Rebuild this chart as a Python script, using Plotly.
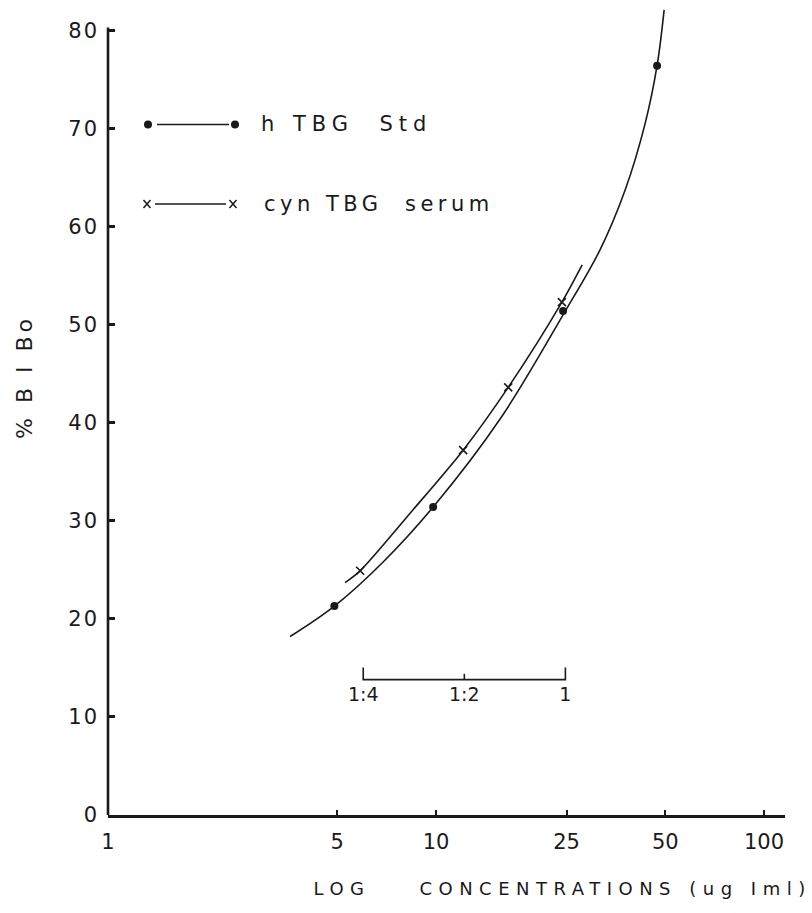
import plotly.graph_objects as go

# ---- data ----
# hTBG standard (dots)
std_x = [4.9, 9.8, 24.4, 47.2]
std_y = [21.3, 31.4, 51.4, 76.4]
# hand-drawn curve through the standard
std_curve_x = [3.59, 4.9, 6.9, 9.8, 15.7, 24.7, 31.6, 37.7, 43.4, 47.2, 49.6]
std_curve_y = [18.2, 21.3, 25.8, 31.4, 40.4, 51.3, 57.6, 63.7, 70.5, 76.4, 82.1]

# cyn TBG serum (x marks)
cyn_x = [5.87, 12.1, 16.6, 24.2]
cyn_y = [24.9, 37.2, 43.6, 52.3]
cyn_curve_x = [5.28, 5.87, 8.4, 12.1, 16.6, 24.2, 27.9]
cyn_curve_y = [23.7, 24.9, 30.9, 37.2, 43.6, 52.3, 56.1]

# dilution scale under the curves
dil_x = [6.0, 12.2, 24.8]
dil_labels = ["1:4", "1:2", "1"]
dil_line_y = 13.8
dil_tick_top = 15.05
dil_label_y = 12.1

x_tickvals = [1, 5, 10, 25, 50, 100]
x_ticktext = ["1", "5", "10", "25", "50", "100"]
y_tickvals = [0, 10, 20, 30, 40, 50, 60, 70, 80]

legend_names = ["h TBG\u00a0\u00a0Std", "cyn TBG\u00a0\u00a0serum"]
x_title = "LOG\u00a0\u00a0\u00a0\u00a0CONCENTRATIONS (ug Iml)"
y_title = "%\u00a0B I Bo"

FONT = "DejaVu Sans"
INK = "#1a1a1a"

fig = go.Figure()

fig.add_trace(go.Scatter(x=std_curve_x, y=std_curve_y, mode="lines",
                         line=dict(color=INK, width=1.6, shape="spline", smoothing=1.0),
                         showlegend=False, hoverinfo="skip"))
fig.add_trace(go.Scatter(x=std_x, y=std_y, mode="markers",
                         marker=dict(symbol="circle", size=8, color=INK),
                         showlegend=False))
fig.add_trace(go.Scatter(x=cyn_curve_x, y=cyn_curve_y, mode="lines",
                         line=dict(color=INK, width=1.6, shape="spline", smoothing=0.8),
                         showlegend=False, hoverinfo="skip"))
fig.add_trace(go.Scatter(x=cyn_x, y=cyn_y, mode="markers",
                         marker=dict(symbol="x-thin", size=8,
                                     line=dict(color=INK, width=1.6)),
                         showlegend=False))

# dilution bracket
bx = [dil_x[0], dil_x[0], dil_x[2], dil_x[2]]
by = [dil_tick_top, dil_line_y, dil_line_y, dil_tick_top]
fig.add_trace(go.Scatter(x=bx, y=by, mode="lines",
                         line=dict(color=INK, width=1.6),
                         showlegend=False, hoverinfo="skip"))
fig.add_trace(go.Scatter(x=[dil_x[1], dil_x[1]], y=[dil_line_y, dil_line_y + 0.6],
                         mode="lines", line=dict(color=INK, width=1.6),
                         showlegend=False, hoverinfo="skip"))
fig.add_trace(go.Scatter(x=dil_x, y=[dil_label_y] * 3, mode="text",
                         text=dil_labels,
                         textfont=dict(family=FONT, size=19, color=INK),
                         showlegend=False, hoverinfo="skip"))

# ---- layout ----
L, R, T, B = 108, 27, 1, 98
W, H = 812, 913
pw = W - L - R
ph = H - T - B


def px(xp):
    return (xp - L) / pw


def py(yp):
    return (H - B - yp) / ph


shapes = []
# y axis line (only up to 80)
shapes.append(dict(type="line", xref="paper", yref="y", x0=0, x1=0, y0=0, y1=80.3,
                   line=dict(color=INK, width=2.6)))

# legend row 1: dot —— dot
r1 = py(124.5)
shapes.append(dict(type="line", xref="paper", yref="paper", x0=px(157), x1=px(229),
                   y0=r1, y1=r1, line=dict(color=INK, width=1.5)))
for cx in (148, 235):
    shapes.append(dict(type="circle", xref="paper", yref="paper",
                       xsizemode="pixel", ysizemode="pixel",
                       xanchor=px(cx), yanchor=r1, x0=-4, x1=4, y0=-4, y1=4,
                       fillcolor=INK, line=dict(color=INK, width=0)))
# legend row 2: x —— x
r2 = py(204)
shapes.append(dict(type="line", xref="paper", yref="paper", x0=px(155), x1=px(226),
                   y0=r2, y1=r2, line=dict(color=INK, width=1.5)))
for cx in (147, 233):
    shapes.append(dict(type="path", xref="paper", yref="paper",
                       xsizemode="pixel", ysizemode="pixel",
                       xanchor=px(cx), yanchor=r2,
                       path="M-3.5,-4 L3.5,4 M-3.5,4 L3.5,-4",
                       line=dict(color=INK, width=1.5)))

annotations = [
    dict(text=legend_names[0], xref="paper", yref="paper", x=px(259), y=r1,
         xanchor="left", yanchor="middle", align="left", showarrow=False,
         font=dict(family=FONT, size=21, color=INK)),
    dict(text=legend_names[1], xref="paper", yref="paper", x=px(262), y=r2,
         xanchor="left", yanchor="middle", align="left", showarrow=False,
         font=dict(family=FONT, size=21, color=INK)),
    dict(text=y_title, xref="paper", yref="paper", x=px(24), y=py(377),
         xanchor="center", yanchor="middle", textangle=-90, showarrow=False,
         font=dict(family=FONT, size=22, color=INK)),
    dict(text=x_title, xref="paper", yref="paper", x=px(562), y=py(888),
         xanchor="center", yanchor="middle", showarrow=False,
         font=dict(family=FONT, size=18, color=INK)),
]

fig.update_layout(
    width=W, height=H, autosize=False,
    margin=dict(l=L, r=R, t=T, b=B, pad=0),
    paper_bgcolor="white", plot_bgcolor="white",
    showlegend=False,
    shapes=shapes, annotations=annotations,
    xaxis=dict(type="log", range=[0, 2.064], tickmode="array",
               tickvals=x_tickvals, ticktext=x_ticktext,
               ticks="inside", ticklen=5, tickwidth=1.6, tickcolor=INK,
               showline=True, linecolor=INK, linewidth=2.6,
               showgrid=False, zeroline=False, ticklabelstandoff=6,
               tickfont=dict(family=FONT, size=21, color=INK)),
    yaxis=dict(range=[0, 83], tickmode="array", tickvals=y_tickvals,
               ticks="inside", ticklen=7, tickwidth=2.6, tickcolor=INK,
               showline=False, showgrid=False, zeroline=False,
               ticklabelstandoff=8,
               tickfont=dict(family=FONT, size=21, color=INK)),
)

post = """
(function(){
  var gd = document.getElementById('{plot_id}');
  function apply(){
    gd.querySelectorAll('.annotation-text').forEach(function(t){
      var s = t.textContent;
      if (s.indexOf('LOG') === 0) t.style.letterSpacing = '6.5px';
      else if (s.indexOf('%') === 0) t.style.letterSpacing = '4px';
      else if (s.indexOf('h TBG') === 0) t.style.letterSpacing = '6px';
      else if (s.indexOf('cyn') === 0) t.style.letterSpacing = '4.5px';
    });
    gd.querySelectorAll('.ytick text').forEach(function(t){ t.style.letterSpacing = '2px'; });
  }
  apply();
  if (gd.on) gd.on('plotly_afterplot', apply);
})();
"""

fig.write_html("out.html", post_script=post)
